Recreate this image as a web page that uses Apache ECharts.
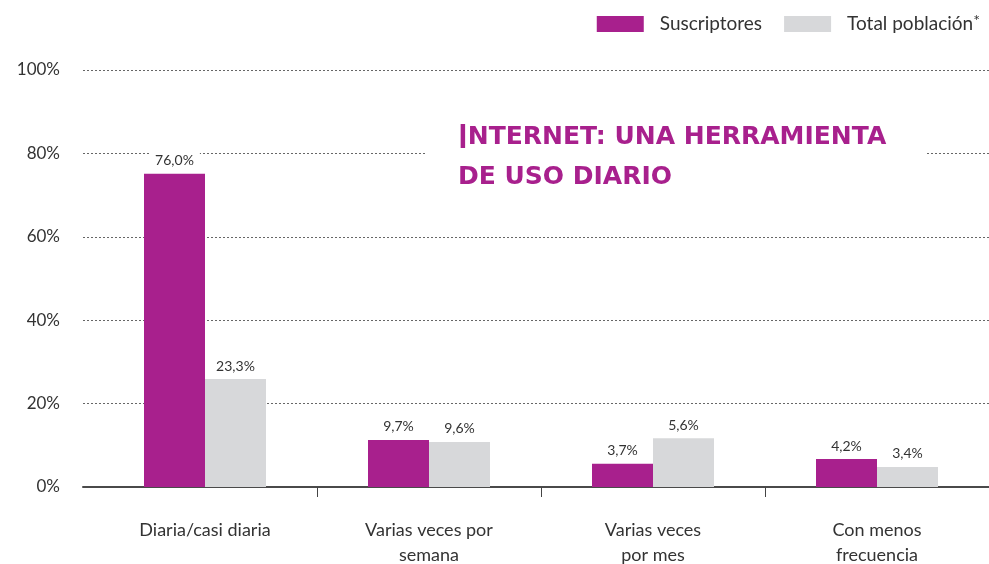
<!DOCTYPE html>
<html><head><meta charset="utf-8">
<script src="https://cdn.jsdelivr.net/npm/echarts@6/dist/echarts.min.js"></script>
<style>html,body{margin:0;padding:0;background:#fff}#c{width:989px;height:564px}</style>
</head><body><div id="c"></div>
<script>
const categories = ['Diaria/casi diaria', 'Varias veces por\nsemana', 'Varias veces\npor mes', 'Con menos\nfrecuencia'];
const suscriptores = [75.1, 11.3, 5.6, 6.7];
const totalPoblacion = [25.9, 10.8, 11.7, 4.8];
const suscriptoresLabels = ['76,0%', '9,7%', '3,7%', '4,2%'];
const totalLabels = ['23,3%', '9,6%', '5,6%', '3,4%'];
const yMin = 0, yMax = 100, yStep = 20;
const seriesNames = ['Suscriptores', 'Total población'];

const MAG = '#A8208D', GRAY = '#D7D8DA', TXT = '#333333';
const FONT = "Lato, 'Open Sans', sans-serif";

const chart = echarts.init(document.getElementById('c'), null, {renderer: 'canvas'});
const lbl = (arr) => ({
  show: true, position: 'top', distance: 4,
  formatter: p => arr[p.dataIndex],
  fontFamily: FONT, fontSize: 14, color: TXT,
  backgroundColor: '#fff', padding: [2, 6, 2, 6]
});
chart.setOption({
  animation: false,
  title: {
    text: '{a|I}{b|NTERNET: UNA HERRAMIENTA}\n{b|DE USO DIARIO}',
    left: 425, top: 113,
    padding: [4, 40, 4, 33],
    backgroundColor: '#fff',
    textStyle: {
      rich: {
        a: {fontFamily: "Lato, sans-serif", fontSize: 33, color: MAG, lineHeight: 40, fontWeight: 'bold'},
        b: {fontFamily: "'DejaVu Sans', sans-serif", fontSize: 25, color: MAG, lineHeight: 40, fontWeight: 'bold'}
      }
    }
  },
  legend: {
    data: seriesNames, right: 4, top: 8,
    itemWidth: 47, itemHeight: 16, itemGap: 22, icon: 'rect',
    formatter: n => n === 'Total población' ? '{t|Total población}{s|*}' : '{t|' + n + '}',
    textStyle: {
      padding: [0, 0, 0, 11],
      rich: {
        t: {fontFamily: FONT, fontSize: 19, color: TXT},
        s: {fontFamily: FONT, fontSize: 16, color: TXT, verticalAlign: 'top', padding: [0, 0, 6, 0]}
      }
    }
  },
  grid: [
    {left: 93, right: 0, top: 70, bottom: 77, outerBoundsMode: 'none', containLabel: false},
    {left: 83, right: 0, top: 70, bottom: 77, outerBoundsMode: 'none', containLabel: false}
  ],
  xAxis: [
    {
      type: 'category', gridIndex: 0, data: categories,
      axisLine: {show: false},
      axisTick: {show: true, length: 10, interval: (i) => i > 0, lineStyle: {color: '#444', width: 1}},
      axisLabel: {margin: 31, fontFamily: FONT, fontSize: 18, lineHeight: 25, color: TXT}
    },
    {
      type: 'value', gridIndex: 1, min: 0, max: 1,
      axisLine: {show: true, onZero: false, lineStyle: {color: '#4a4a4a', width: 2}},
      axisTick: {show: false}, axisLabel: {show: false}, splitLine: {show: false}
    }
  ],
  yAxis: [
    {type: 'value', gridIndex: 0, min: yMin, max: yMax, interval: yStep, show: false},
    {
      type: 'value', gridIndex: 1, min: yMin, max: yMax, interval: yStep,
      axisLine: {show: false}, axisTick: {show: false},
      axisLabel: {formatter: '{value}%', margin: 23, fontFamily: FONT, fontSize: 17, color: TXT},
      splitLine: {show: true, showMinLine: false, lineStyle: {color: '#666', width: 1, type: [2, 2]}}
    }
  ],
  series: [
    {name: seriesNames[0], type: 'bar', xAxisIndex: 0, yAxisIndex: 0, data: suscriptores,
     barWidth: 61, barGap: '0%', itemStyle: {color: MAG}, label: lbl(suscriptoresLabels), z: 3},
    {name: seriesNames[1], type: 'bar', xAxisIndex: 0, yAxisIndex: 0, data: totalPoblacion,
     barWidth: 61, barGap: '0%', itemStyle: {color: GRAY}, label: lbl(totalLabels), z: 3}
  ]
});
</script></body></html>
